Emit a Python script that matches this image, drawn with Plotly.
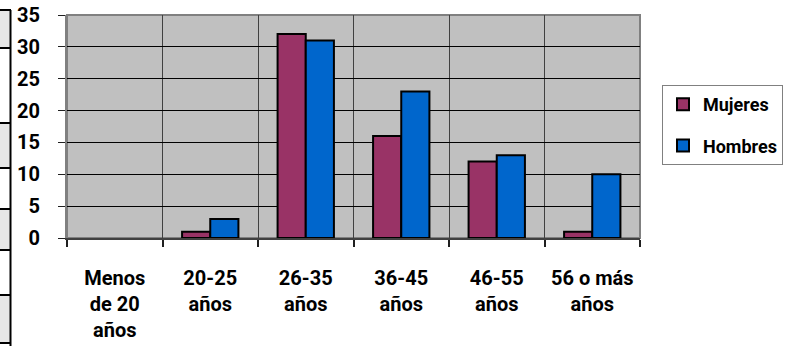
import plotly.graph_objects as go

# Age groups and counts by sex
categories = ["Menos<br>de 20<br>años", "20-25<br>años", "26-35<br>años",
              "36-45<br>años", "46-55<br>años", "56 o más<br>años"]
mujeres = [0, 1, 32, 16, 12, 1]
hombres = [0, 3, 31, 23, 13, 10]
y_ticks = [0, 5, 10, 15, 20, 25, 30, 35]

W, H = 790, 346
L, R, T, B = 67, 150, 15, 108
PW, PH = W - L - R, H - T - B

def px(x):
    return (x - L) / PW

def py(y):
    return (H - B - y) / PH

FONT = "Roboto"
FS = 20

def drawn(values):
    # empty groups get no bar at all (no outline on the baseline)
    return [v if v else None for v in values]

fig = go.Figure()
fig.add_trace(go.Bar(name="Mujeres", x=categories, y=drawn(mujeres),
                     marker=dict(color="#993366", line=dict(color="black", width=2)),
                     legendgroup="m"))
fig.add_trace(go.Bar(name="Hombres", x=categories, y=drawn(hombres),
                     marker=dict(color="#0066CC", line=dict(color="black", width=2)),
                     legendgroup="h"))

shapes = []
# frame of the plot area
shapes.append(dict(type="rect", xref="paper", yref="paper", x0=0, x1=1, y0=0, y1=1,
                   line=dict(color="#808080", width=2), layer="below"))
# partial table on the left edge
rows = [10, 48, 123, 168, 209, 250, 295, 343]
for i in range(len(rows) - 1):
    fill = "#e6e6e6" if i % 2 == 0 else "white"
    shapes.append(dict(type="rect", xref="paper", yref="paper",
                       x0=px(-2), x1=px(10), y0=py(rows[i + 1]), y1=py(rows[i]),
                       fillcolor=fill, line=dict(width=0)))
for r in rows:
    shapes.append(dict(type="line", xref="paper", yref="paper",
                       x0=px(-2), x1=px(11), y0=py(r), y1=py(r),
                       line=dict(color="black", width=2)))
shapes.append(dict(type="line", xref="paper", yref="paper",
                   x0=px(10.5), x1=px(10.5), y0=py(rows[0]), y1=py(348),
                   line=dict(color="black", width=2)))

bold = dict(family=FONT, size=FS, color="black", weight="bold")

fig.update_layout(
    width=W, height=H,
    margin=dict(l=L, r=R, t=T, b=B, autoexpand=False),
    paper_bgcolor="white",
    plot_bgcolor="#c0c0c0",
    barmode="group",
    bargap=0.41,
    bargroupgap=0,
    font=bold,
    shapes=shapes,
    legend=dict(
        x=px(662), y=py(85), xanchor="left", yanchor="top",
        bgcolor="white", bordercolor="#808080", borderwidth=1,
        font=dict(family=FONT, size=18, color="black", weight="bold"),
        tracegroupgap=15,
        itemwidth=30,
    ),
    xaxis=dict(
        type="category",
        tickson="boundaries",
        ticks="outside", ticklen=7, tickwidth=2, tickcolor="#202020",
        showgrid=True, gridcolor="#404040", gridwidth=1,
        showline=True, linecolor="#404040", linewidth=2,
        automargin=False,
        tickfont=bold,
        ticklabelstandoff=21,
        zeroline=False,
    ),
    yaxis=dict(
        range=[0, 35],
        tickvals=y_ticks,
        ticks="outside", ticklen=7, tickwidth=1, tickcolor="#202020",
        showgrid=True, gridcolor="black", gridwidth=1,
        showline=True, linecolor="#808080", linewidth=2,
        zeroline=False,
        automargin=False,
        tickfont=bold,
        ticklabelstandoff=14,
    ),
)

fig.write_html("out.html")
